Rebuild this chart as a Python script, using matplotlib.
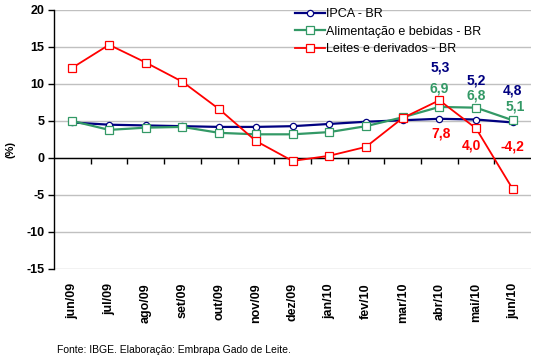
import matplotlib
matplotlib.use("Agg")
import matplotlib.pyplot as plt

plt.rcParams['font.family'] = ['Liberation Sans', 'DejaVu Sans']
plt.rcParams['axes.unicode_minus'] = False

meses = ["jun/09", "jul/09", "ago/09", "set/09", "out/09", "nov/09", "dez/09",
         "jan/10", "fev/10", "mar/10", "abr/10", "mai/10", "jun/10"]
ipca = [4.8, 4.5, 4.4, 4.3, 4.2, 4.2, 4.3, 4.6, 4.9, 5.1, 5.3, 5.2, 4.8]
alimentacao = [5.0, 3.8, 4.1, 4.2, 3.4, 3.2, 3.2, 3.5, 4.3, 5.5, 6.9, 6.8, 5.1]
leites = [12.2, 15.3, 12.9, 10.3, 6.6, 2.3, -0.4, 0.3, 1.5, 5.4, 7.8, 4.0, -4.2]

azul = "#000080"
verde = "#339966"
vermelho = "#FF0000"

fig = plt.figure(figsize=(5.37, 3.57), dpi=100)
ax = fig.add_axes([0.1006, 0.2465, 0.8884, 0.7255])

x = list(range(len(meses)))
ax.plot(x, ipca, color=azul, lw=1.6, marker="o", ms=4.5, mfc="white", mec=azul,
        mew=0.9, label="IPCA - BR", zorder=3)
ax.plot(x, alimentacao, color=verde, lw=1.6, marker="s", ms=5.5, mfc="white",
        mec=verde, mew=0.9, label="Alimentação e bebidas - BR", zorder=4)
ax.plot(x, leites, color=vermelho, lw=1.3, marker="s", ms=6, mfc="white",
        mec=vermelho, mew=0.9, label="Leites e derivados - BR", zorder=5)

ax.set_xlim(-0.5, len(meses) - 0.5)
ax.set_ylim(-15, 20)
ax.set_yticks(range(-15, 21, 5))
ax.yaxis.grid(True, color="#C0C0C0", lw=1)
ax.set_axisbelow(True)
for s in ["top", "right", "bottom"]:
    ax.spines[s].set_visible(False)
ax.spines["left"].set_linewidth(1)
ax.tick_params(axis="y", direction="out", length=4, width=1, labelsize=9, pad=3)
for t in ax.get_yticklabels():
    t.set_fontweight("bold")

# rotulos das categorias embaixo
ax.set_xticks(x)
ax.set_xticklabels(meses, rotation=90, fontsize=9, fontweight="bold")
ax.tick_params(axis="x", length=0, pad=10)

# eixo de categorias cruzando no zero
ax.axhline(0, color="black", lw=1, zorder=2)
y0 = (0 - (-15)) / 35.0
eixo = ax.secondary_xaxis(y0)
eixo.spines["bottom"].set_visible(False)
eixo.set_xticks([i + 0.5 for i in x[:-1]])
eixo.tick_params(axis="x", direction="out", length=4, width=1, labelbottom=False)

# rotulos de dados
def rot(v):
    return ("%.1f" % v).replace(".", ",")

rotulos = [
    (ipca, azul, [10, 11, 12], [(1, 37), (0, 28), (0, 23)]),
    (alimentacao, verde, [10, 11, 12], [(0, 13), (0, 9), (2, 10)]),
    (leites, vermelho, [10, 11, 12], [(1, -24), (-3, -12), (0, 31)]),
]
for serie, cor, idx, offs in rotulos:
    for i, (dx, dy) in zip(idx, offs):
        ax.annotate(rot(serie[i]), (i, serie[i]), xytext=(dx, dy),
                    textcoords="offset points", ha="center", va="center",
                    color=cor, fontsize=10, fontweight="bold", zorder=6)

ax.legend(loc="upper left", bbox_to_anchor=(0.505, 1.008), frameon=False,
          fontsize=9, handlelength=2.4, handletextpad=0.1, labelspacing=0.45,
          borderpad=0, borderaxespad=0)

fig.text(0.020, 0.58, "(%)", rotation=90, fontsize=8, fontweight="bold",
         ha="center", va="center")
fig.text(0.106, 0.02, "Fonte: IBGE. Elaboração: Embrapa Gado de Leite.",
         fontsize=7.5, ha="left", va="center")

fig.savefig("out.png", dpi=100)
